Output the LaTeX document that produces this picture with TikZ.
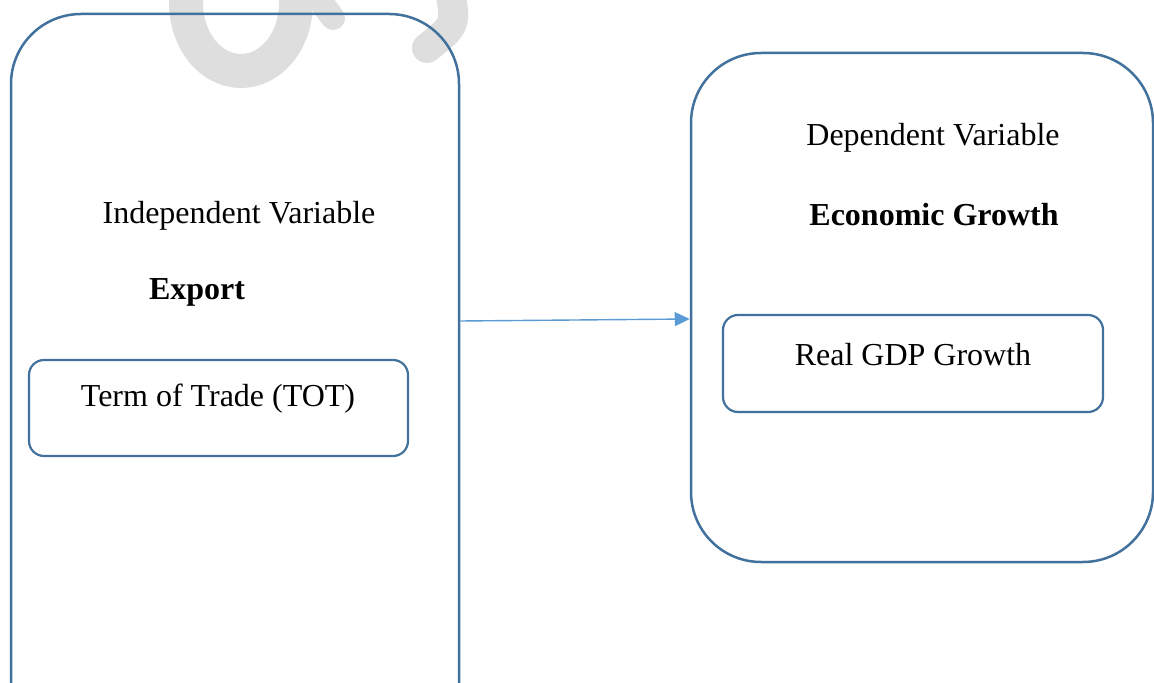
\documentclass[tikz,border=0pt]{standalone}
\usepackage{fontspec}
\setmainfont{Liberation Serif}
\usetikzlibrary{arrows.meta}
\definecolor{boxline}{RGB}{65,113,156}
\definecolor{flowline}{RGB}{91,155,213}
\definecolor{wmgrey}{RGB}{222,222,222}

\begin{document}
\begin{tikzpicture}[x=0.5pt, y=-0.5pt,
    bigbox/.style={draw=boxline, line width=1.25pt, rectangle, rounded corners=35pt, inner sep=0pt},
    smallbox/.style={draw=boxline, line width=1.1pt, rectangle, rounded corners=7.5pt, inner sep=0pt},
    txt/.style={font=\fontsize{16}{19}\selectfont},
    flow/.style={draw=flowline, line width=0.7pt, -{Triangle[length=7.5pt, width=7pt]}}]
    \useasboundingbox (0,0) rectangle (1154,683);
    \clip (0,0) rectangle (1154,683);
    % watermark behind the boxes
    \draw[wmgrey, line width=17pt] (241,3) ellipse [x radius=27.5pt, y radius=34pt];
    \draw[wmgrey, line width=12pt, line cap=round] (316,-5) -- (333,18);
    \draw[wmgrey, line width=15pt, line cap=round] (450,-10) .. controls (456,25) .. (427,48);
    % boxes
    \node[bigbox, minimum width=224pt, minimum height=393pt] (indep) at (235,407) {};
    \node[bigbox, minimum width=231pt, minimum height=254.5pt] (dep) at (922,307.5) {};
    \node[smallbox, minimum width=189.5pt, minimum height=48pt] (tot) at (218.5,408) {};
    \node[smallbox, minimum width=190pt, minimum height=48.5pt] (gdp) at (913,363.5) {};
    % texts
    \node[txt] (indeplbl) at (239,216) {Independent Variable};
    \node[txt] (export) at (197,292) {\textbf{Export}};
    \node[txt] (totlbl) at (218,399) {Term of Trade (TOT)};
    \node[txt] (deplbl) at (933,138) {Dependent Variable};
    \node[txt] (growth) at (934,215) {\textbf{Economic Growth}};
    \node[txt] (gdplbl) at (913,355) {Real GDP Growth};
    % connector
    \draw[flow] (indep.east |- 0,321) -- (dep.west |- 0,319);
\end{tikzpicture}
\end{document}
